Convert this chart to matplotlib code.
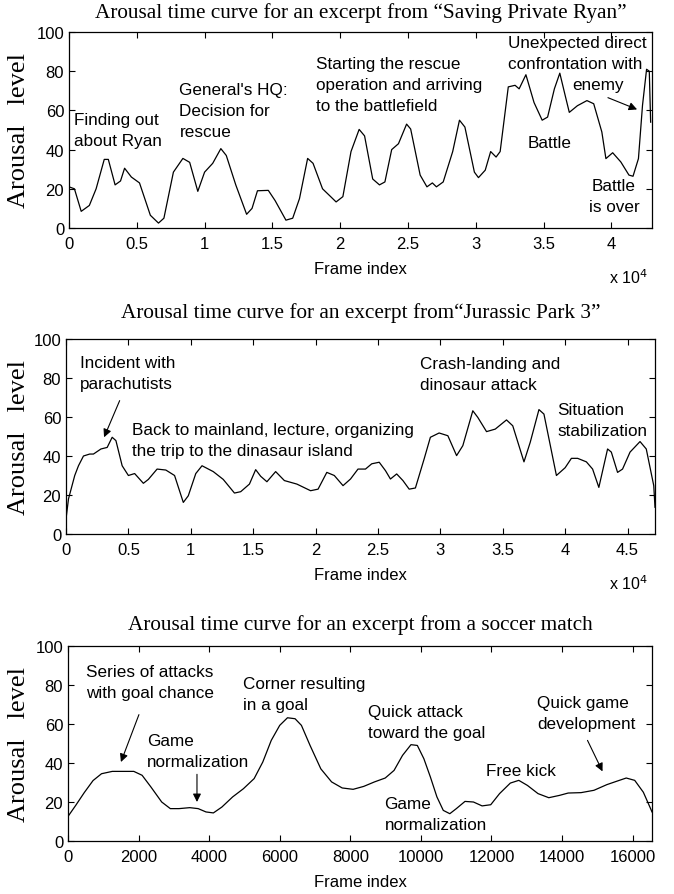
import matplotlib.pyplot as plt

# --- data --------------------------------------------------------------
# "Saving Private Ryan" (frame index in units of 1e4)
ryan_x = [0, 0.04, 0.09, 0.15, 0.2, 0.26, 0.29, 0.34, 0.38, 0.41, 0.46, 0.52, 0.6, 0.66, 0.7,
          0.77, 0.84, 0.89, 0.95, 1.0, 1.06, 1.12, 1.16, 1.23, 1.31, 1.35, 1.39, 1.47, 1.52, 1.6,
          1.65, 1.7, 1.76, 1.8, 1.87, 1.93, 1.97, 2.02, 2.08, 2.14, 2.18, 2.24, 2.29, 2.33, 2.38,
          2.43, 2.49, 2.52, 2.59, 2.64, 2.68, 2.71, 2.76, 2.83, 2.88, 2.92, 2.99, 3.02, 3.07, 3.11,
          3.15, 3.18, 3.24, 3.29, 3.32, 3.37, 3.43, 3.49, 3.53, 3.58, 3.62, 3.66, 3.69, 3.75, 3.82,
          3.87, 3.93, 3.96, 4.01, 4.07, 4.13, 4.16, 4.2, 4.23, 4.26, 4.28, 4.29]
ryan_y = [21, 20, 8.5, 11.5, 20, 35, 35, 22, 24, 30.5, 26, 23, 6.5, 2.5, 5,
          28.5, 35.5, 33.5, 18.7, 28.5, 33, 40.5, 37, 22, 7, 10, 19, 19.2, 14, 4,
          5, 15, 35.5, 33, 20, 16, 13.3, 16, 39, 50.3, 47, 25, 22, 23.5, 40,
          43, 53, 50.5, 27, 21, 23, 21, 23.5, 39, 55, 51.5, 28.5, 25.7, 29.5, 39,
          36.2, 39, 72, 72.8, 71, 78.2, 64, 55, 56.6, 71, 79, 67.5, 59, 62.4, 65,
          63.4, 49, 35.4, 38.4, 33.7, 27, 26.4, 35.4, 62.6, 81, 80, 54]

# "Jurassic Park 3" (frame index in units of 1e4)
jp_x = [0, 0.02, 0.07, 0.1, 0.14, 0.19, 0.22, 0.28, 0.33, 0.37, 0.4, 0.45, 0.5, 0.55, 0.62,
        0.66, 0.73, 0.8, 0.87, 0.94, 0.98, 1.04, 1.09, 1.18, 1.26, 1.35, 1.4, 1.47, 1.52, 1.56,
        1.61, 1.68, 1.75, 1.85, 1.96, 2.02, 2.09, 2.15, 2.22, 2.28, 2.34, 2.4, 2.45, 2.51, 2.56,
        2.6, 2.65, 2.7, 2.75, 2.8, 2.87, 2.92, 2.99, 3.06, 3.13, 3.18, 3.26, 3.3, 3.37, 3.44,
        3.53, 3.58, 3.67, 3.72, 3.79, 3.83, 3.93, 4.0, 4.05, 4.1, 4.17, 4.22, 4.27, 4.34, 4.37,
        4.42, 4.46, 4.52, 4.6, 4.65, 4.71, 4.72]
jp_y = [7.7, 18, 30, 35, 40, 41, 41, 43.6, 44.4, 49.6, 47.9, 35, 30, 31, 26,
        28, 33.3, 32.8, 30, 16.2, 19.6, 31, 35, 32, 28, 21, 21.7, 25.6, 33, 29.6,
        26.8, 32, 27.4, 25.6, 22.2, 23, 31.6, 30, 24.8, 28.2, 33.3, 33.3, 36, 36.8, 32.5,
        28.2, 30.8, 27.4, 23, 23.6, 38.5, 49.6, 51.8, 50.4, 40.2, 45.3, 63.2, 59.8, 52.5, 53.8,
        58.5, 55.5, 37, 47, 63.8, 61.5, 30, 34, 38.8, 38.8, 37, 33.3, 23.9, 43.6, 42,
        31.6, 33.3, 42, 47.4, 43.6, 24.8, 13.7]

# soccer match (frame index)
soccer_x = [0, 220, 460, 710, 950, 1255, 1500, 1865, 2100, 2350, 2655, 2900, 3145, 3450, 3690,
            3910, 4120, 4360, 4665, 4970, 5275, 5520, 5760, 6000, 6220, 6435, 6615, 6860, 7165,
            7470, 7770, 8080, 8380, 8685, 8990, 9240, 9480, 9720, 9900, 10085, 10270, 10455,
            10635, 10820, 11005, 11250, 11490, 11735, 11980, 12230, 12535, 12775, 13020, 13320,
            13625, 13930, 14175, 14540, 14905, 15270, 15575, 15820, 16060, 16305, 16510, 16550]
soccer_y = [12.6, 18.3, 24.8, 31, 34.5, 35.7, 35.7, 35.7, 33.7, 27.7, 20, 16.6, 16.6, 17.1, 16.6,
            14.9, 14.4, 17.4, 22.6, 26.8, 32, 40.5, 51.6, 59.3, 63.2, 62.7, 59.3, 49, 37,
            30.3, 27.2, 26.5, 28, 30.3, 32.3, 36.2, 43.9, 49.4, 49, 42.2, 32.8, 22.6,
            15.7, 14, 16.6, 20.3, 20, 18, 18.6, 24.3, 29.7, 31.1, 28.5, 24.3,
            22.2, 23.4, 24.6, 24.8, 26, 28.9, 30.8, 32.3, 31.1, 25, 16.6, 14.9]

titles = ["Arousal time curve for an excerpt from \u201cSaving Private Ryan\u201d",
          "Arousal time curve for an excerpt from\u201cJurassic Park 3\u201d",
          "Arousal time curve for an excerpt from a soccer match"]

SANS = "Liberation Sans"
SERIF = "Liberation Serif"
FS = 12.3      # annotations
TFS = 12       # tick labels

W, H = 674, 895
fig = plt.figure(figsize=(W / 100, H / 100), dpi=100)


def px_axes(left, top, right, bottom):
    return fig.add_axes([left / W, 1 - bottom / H, (right - left) / W, (bottom - top) / H])


def style(ax, xmax, xticks, xticklabels):
    ax.set_xlim(0, xmax)
    ax.set_ylim(0, 100)
    ax.set_yticks([0, 20, 40, 60, 80, 100])
    ax.set_xticks(xticks)
    ax.set_xticklabels(xticklabels)
    ax.tick_params(direction="in", top=True, right=True, length=4.5, width=0.8,
                   labelsize=TFS, pad=3.5)
    ax.tick_params(axis="x", pad=6)
    for lab in ax.get_xticklabels() + ax.get_yticklabels():
        lab.set_fontfamily(SANS)
    for s in ax.spines.values():
        s.set_linewidth(0.9)
    ax.set_xlabel("Frame index", fontfamily=SANS, fontsize=TFS, labelpad=7)


def arrow(ax, tail, head):
    ax.annotate("", xy=head, xytext=tail,
                arrowprops=dict(arrowstyle="-|>", color="k", lw=0.8,
                                mutation_scale=12, shrinkA=0, shrinkB=0))


def note(ax, x, y, s, **kw):
    kw.setdefault("ha", "left")
    ax.text(x, y, s, fontfamily=SANS, fontsize=FS, va="center", linespacing=1.5, **kw)


panels = [(69, 33, 652, 229), (66, 340, 655, 535), (68, 647, 652, 842)]
title_y = [13, 313, 625]

# --- panel 1 ---
ax1 = px_axes(*panels[0])
ax1.plot(ryan_x, ryan_y, color="k", lw=0.9)
style(ax1, 4.3, [0, 0.5, 1, 1.5, 2, 2.5, 3, 3.5, 4],
      ["0", "0.5", "1", "1.5", "2", "2.5", "3", "3.5", "4"])
note(ax1, 0.04, 50, "Finding out\nabout Ryan")
note(ax1, 0.815, 60, "General's HQ:\nDecision for\nrescue")
note(ax1, 1.82, 73, "Starting the rescue\noperation and arriving\nto the battlefield")
note(ax1, 3.24, 89.5, "Unexpected direct\nconfrontation with")
note(ax1, 3.905, 73, "enemy", ha="center")
arrow(ax1, (3.975, 66.5), (4.19, 60.5))
note(ax1, 3.545, 43.5, "Battle", ha="center")
note(ax1, 4.02, 16.5, "Battle\nis over", ha="center", multialignment="center")

# --- panel 2 ---
ax2 = px_axes(*panels[1])
ax2.plot(jp_x, jp_y, color="k", lw=0.9)
style(ax2, 4.72, [0, 0.5, 1, 1.5, 2, 2.5, 3, 3.5, 4, 4.5],
      ["0", "0.5", "1", "1.5", "2", "2.5", "3", "3.5", "4", "4.5"])
note(ax2, 0.114, 82.6, "Incident with\nparachutists")
arrow(ax2, (0.43, 68.4), (0.305, 49.6))
note(ax2, 0.526, 48.2, "Back to mainland, lecture, organizing\nthe trip to the dinasaur island")
note(ax2, 2.837, 82, "Crash-landing and\ndinosaur attack")
note(ax2, 3.94, 58.6, "Situation\nstabilization")

# --- panel 3 ---
ax3 = px_axes(*panels[2])
ax3.plot(soccer_x, soccer_y, color="k", lw=0.9)
style(ax3, 16550, list(range(0, 16001, 2000)), [str(v) for v in range(0, 16001, 2000)])
note(ax3, 500, 81.4, "Series of attacks\nwith goal chance")
arrow(ax3, (2010, 64.8), (1500, 40.5))
note(ax3, 2230, 46.3, "Game\nnormalization")
arrow(ax3, (3655, 34.2), (3655, 20))
note(ax3, 4973, 75.4, "Corner resulting\nin a goal")
note(ax3, 8507, 61, "Quick attack\ntoward the goal")
note(ax3, 8970, 14, "Game\nnormalization")
note(ax3, 11857, 36.2, "Free kick")
note(ax3, 13296, 65.8, "Quick game\ndevelopment")
arrow(ax3, (14722, 51.6), (15148, 35.7))

for (l, t, r, b), ty, title in zip(panels, title_y, titles):
    fig.text((l + r) / 2 / W, 1 - ty / H, title,
             ha="center", va="center", fontfamily=SERIF, fontsize=15.3)
    fig.text(19 / W, 1 - (t + b) / 2 / H, "Arousal   level", rotation=90,
             ha="center", va="center", fontfamily=SERIF, fontsize=19)

# MATLAB-style exponent labels
for (l, t, r, b) in panels[:2]:
    fig.text(648 / W, 1 - (b + 49) / H, r"x 10$^4$", ha="right", va="center",
             fontfamily=SANS, fontsize=11.5)

fig.savefig("out.png", dpi=100)
